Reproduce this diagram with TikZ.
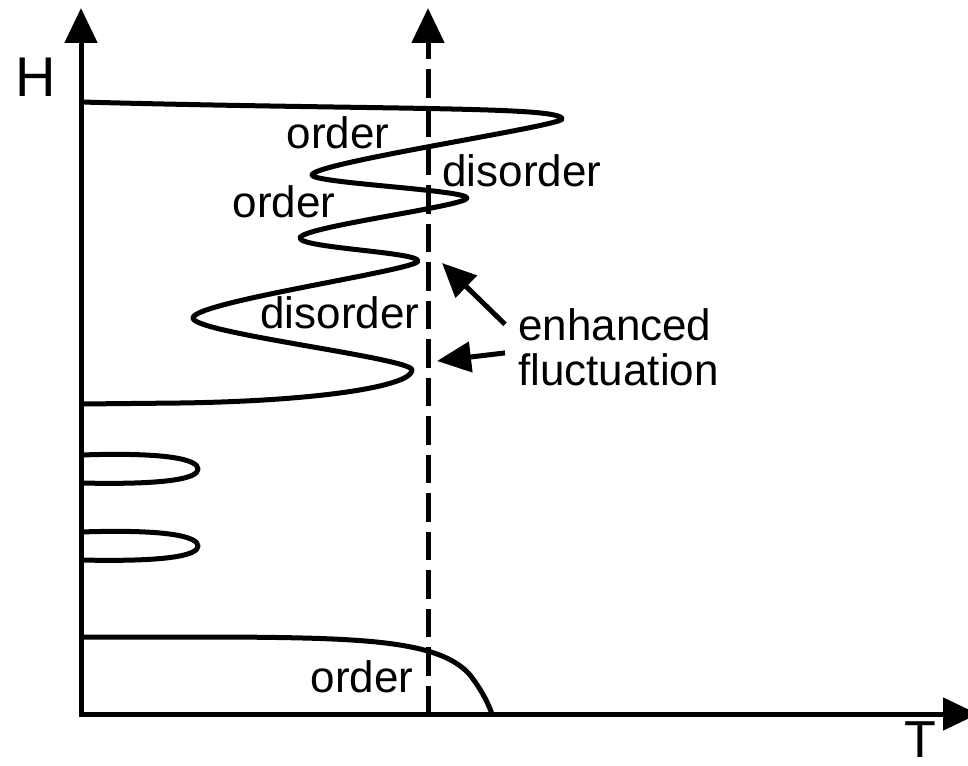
\documentclass[tikz,border=0pt]{standalone}
\usepackage{fontspec}
\setmainfont{Liberation Sans}
\usetikzlibrary{arrows.meta}
\begin{document}
\begin{tikzpicture}[x=1pt,y=-1pt,
  curve/.style={line width=5pt, line join=round},
  axisline/.style={line width=5pt, {Triangle[length=35pt,width=32pt]}-{Triangle[length=35pt,width=32pt]}},
  dashline/.style={line width=5pt, dash pattern=on 28.5pt off 10pt, -{Triangle[length=35pt,width=32pt]}},
  pointer/.style={line width=5pt, -{Triangle[length=34pt,width=30pt]}},
  lab/.style={font=\fontsize{44}{50}\selectfont, inner sep=0pt},
  biglab/.style={font=\fontsize{56}{60}\selectfont, inner sep=0pt}
]
\useasboundingbox (0,0) rectangle (968,765);
% axes
\coordinate (ytop) at (81,8);
\coordinate (O) at (81,714);
\coordinate (xend) at (978,714);
\draw[axisline] (ytop) -- (O) -- (xend);
\node[biglab] (H) at (36,77) {H};
\node[biglab, font=\fontsize{52}{56}\selectfont] (T) at (920,740) {T};
% dashed line
\coordinate (dbot) at (428,714);
\coordinate (dtop) at (428,8);
\draw[dashline] (dbot) -- (dtop);
% big wavy boundary
\draw[curve] (81,102) .. controls (380,110) and (562,106) .. (562,119)
  .. controls (562,126) and (312,163) .. (312,175)
  .. controls (312,183) and (467,190) .. (467,198)
  .. controls (467,206) and (300,227) .. (300,238)
  .. controls (300,248) and (418,252) .. (418,261)
  .. controls (418,270) and (193,302) .. (193,318)
  .. controls (193,333) and (412,358) .. (412,370)
  .. controls (412,386) and (320,401) .. (180,403) -- (81,404);
% small loops
\draw[curve] (81,455) .. controls (170,452) and (198,460) .. (198,469)
  .. controls (198,478) and (170,485) .. (81,483);
\draw[curve] (81,532) .. controls (170,529) and (198,537) .. (198,546)
  .. controls (198,555) and (170,562) .. (81,560);
% low-field boundary
\draw[curve] (81,637) -- (230,637) .. controls (360,638) and (440,640) .. (470,675)
  .. controls (480,688) and (487,700) .. (492,714);
% labels
\node[lab, anchor=base] (o1) at (338,148) {order};
\node[lab, anchor=base] (d1) at (522,186) {disorder};
\node[lab, anchor=base] (o2) at (284,217) {order};
\node[lab, anchor=base] (d2) at (340,328) {disorder};
\node[lab, anchor=base] (o3) at (362,692) {order};
\node[lab, anchor=base west, inner xsep=13pt] (enh) at (505,340) {enhanced};
\node[lab, anchor=base west, inner xsep=13pt] (flu) at (505,385) {fluctuation};
\coordinate (tip1) at (442,263);
\coordinate (tip2) at (437,361);
\draw[pointer] (enh.west) -- (tip1);
\draw[pointer] (flu.north west) -- (tip2);
\end{tikzpicture}
\end{document}
